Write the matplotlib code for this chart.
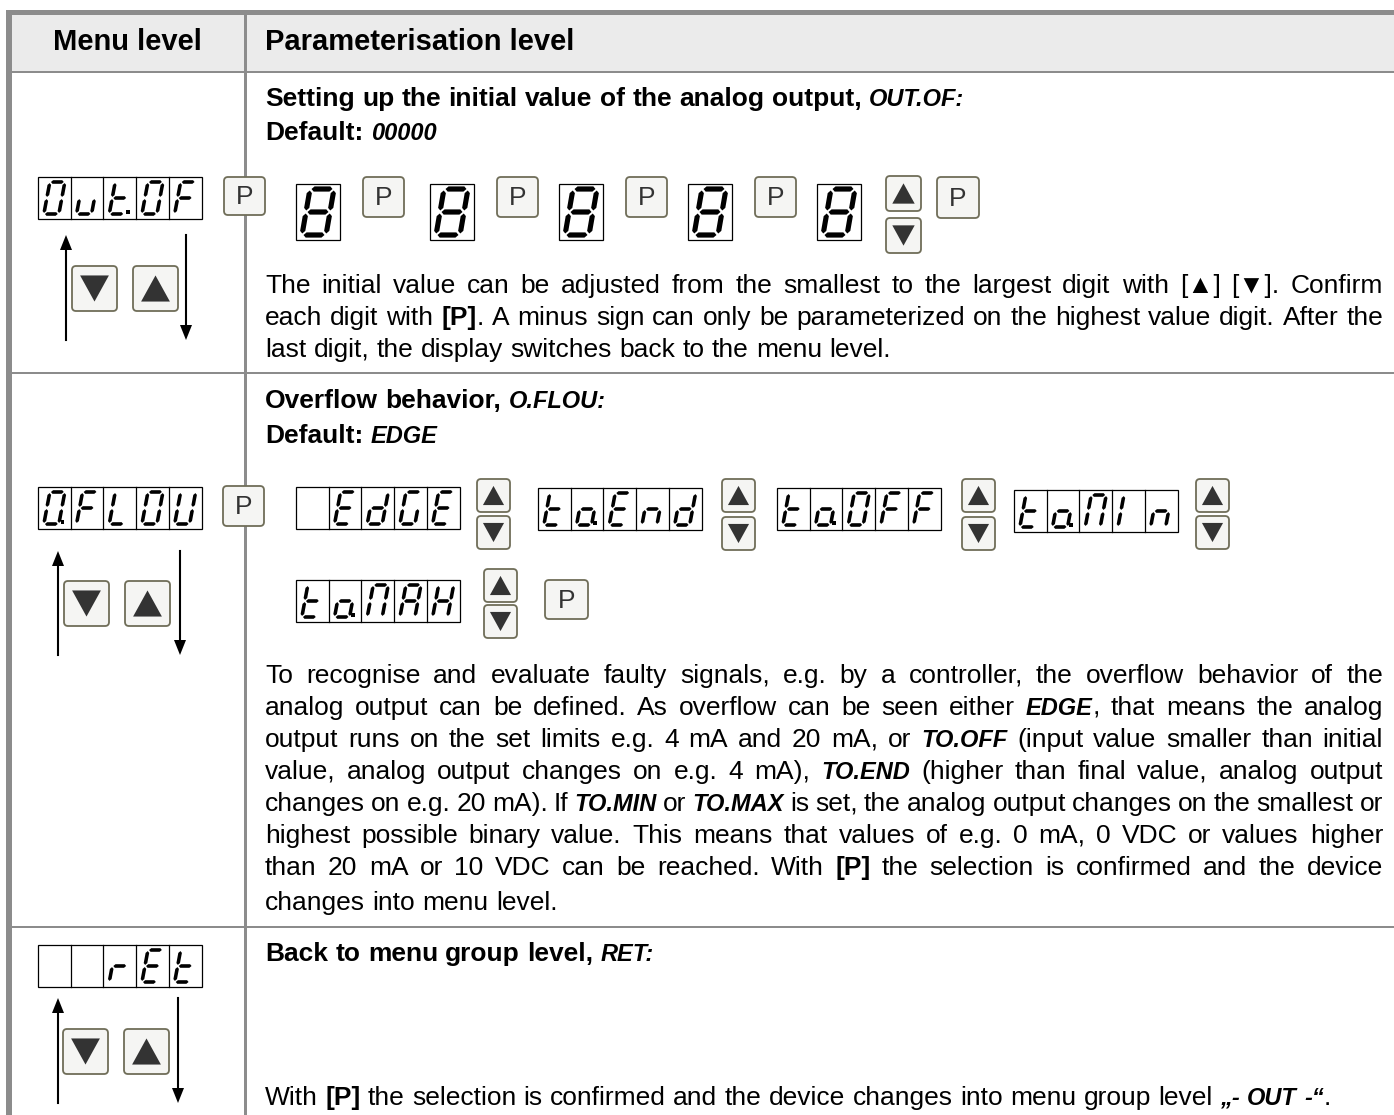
import re

import matplotlib
matplotlib.use("Agg")
import matplotlib.pyplot as plt
import numpy as np
from matplotlib.patches import FancyBboxPatch, Polygon, Rectangle

# ---------------- content ----------------
HEADER_LEFT = "Menu level"
HEADER_RIGHT = "Parameterisation level"

# what the 5-digit display shows in each menu row ("." = decimal point)
MENU_DISPLAYS = ["Out.OF", "O.FLOU", "  rEt"]

# *...* = bold, _..._ = display font (bold italic, smaller)
ROW_TITLES = [
    "Setting up the initial value of the analog output, _OUT.OF:_",
    "Overflow behavior, _O.FLOU:_",
    "Back to menu group level, _RET:_",
]
ROW_DEFAULTS = ["Default: _00000_", "Default: _EDGE_", None]

DIGIT_STEPS = ["8", "8", "8", "8", "8"]
OVERFLOW_OPTIONS = [" EdGE", "to.End", "to.OFF", "to.MIn", "to.MAX"]

TEXT_ROW1 = [
    "The initial value can be adjusted from the smallest to the largest digit with [▲] [▼]. Confirm",
    "each digit with *[P]*. A minus sign can only be parameterized on the highest value digit. After the",
    "last digit, the display switches back to the menu level.",
]
TEXT_ROW2 = [
    "To recognise and evaluate faulty signals, e.g. by a controller, the overflow behavior of the",
    "analog output can be defined. As overflow can be seen either _EDGE_, that means the analog",
    "output runs on the set limits e.g. 4 mA and 20 mA, or _TO.OFF_ (input value smaller than initial",
    "value, analog output changes on e.g. 4 mA), _TO.END_ (higher than final value, analog output",
    "changes on e.g. 20 mA). If _TO.MIN_ or _TO.MAX_ is set, the analog output changes on the smallest or",
    "highest possible binary value. This means that values of e.g. 0 mA, 0 VDC or values higher",
    "than 20 mA or 10 VDC can be reached. With *[P]* the selection is confirmed and the device",
    "changes into menu level.",
]
TEXT_ROW3 = [
    "With *[P]* the selection is confirmed and the device changes into menu group level _„-_ _OUT_ _-“_.",
]

# seven segment glyphs
SEGMENTS = {
    "0": "abcdef", "O": "abcdef", "8": "abcdefg", "u": "cde", "U": "bcdef",
    "t": "defg", "F": "aefg", "L": "def", "E": "adefg", "d": "bcdeg",
    "G": "acdef", "n": "ceg", "o": "cdeg", "M": "abcef", "I": "ef",
    "A": "abcefg", "X": "bcefg", "r": "eg", " ": "",
}
SEG_ENDS = {
    "a": ((0, 1), (1, 1)), "b": ((1, 1), (1, 0.5)), "c": ((1, 0.5), (1, 0)),
    "d": ((0, 0), (1, 0)), "e": ((0, 0.5), (0, 0)), "f": ((0, 1), (0, 0.5)),
    "g": ((0, 0.5), (1, 0.5)),
}

# ---------------- figure ----------------
W, H = 1394, 1115
fig = plt.figure(figsize=(W / 100, H / 100), dpi=100)
ax = fig.add_axes([0, 0, 1, 1])
ax.set_xlim(0, W)
ax.set_ylim(H, 0)
ax.axis("off")
R = fig.canvas.get_renderer()

FS = 19
SANS = ["Liberation Sans", "DejaVu Sans"]
STYLES = {
    "n": dict(family=SANS, weight="normal", fontsize=FS),
    "b": dict(family=SANS, weight="bold", fontsize=FS),
    "s": dict(family=SANS, weight="bold", style="italic", fontsize=17),
}
GRAY = "#8c8c8c"
BTN_EDGE = "#6f6d58"


# ---------------- table ----------------
ax.add_patch(Rectangle((12, 15), W - 12, 57, fc="#ebebeb", ec="none", zorder=0))
ax.add_patch(Rectangle((6, 10), W - 6, 5, fc=GRAY, ec="none", zorder=1))
ax.add_patch(Rectangle((6, 10), 6, H - 10, fc=GRAY, ec="none", zorder=1))
for yl in [72, 373, 927]:
    ax.add_patch(Rectangle((12, yl - 1.25), W - 12, 2.5, fc=GRAY, ec="none", zorder=1))
ax.add_patch(Rectangle((244, 15), 2.5, H - 15, fc=GRAY, ec="none", zorder=1))


# ---------------- helpers ----------------
_wcache = {}


def text_w(s, st):
    key = (s, st)
    if key not in _wcache:
        t = ax.text(0, 0, s, **STYLES[st])
        _wcache[key] = t.get_window_extent(renderer=R).width
        t.remove()
    return _wcache[key]


SPACE = text_w("a a", "n") - text_w("aa", "n")


def parse_word(word, base):
    frags = []
    for part in re.split(r"(\*[^*]+\*|_[^_]+_)", word):
        if not part:
            continue
        if len(part) > 1 and part[0] == part[-1] == "*":
            frags.append((part[1:-1], "b"))
        elif len(part) > 1 and part[0] == part[-1] == "_":
            frags.append((part[1:-1], "s"))
        else:
            frags.append((part, base))
    return frags


def put_line(line, y, base="n", justify=False, x_left=265, x_right=1383):
    words = [parse_word(w, base) for w in line.split(" ")]
    widths = [sum(text_w(t, s) for t, s in w) for w in words]
    if justify and len(words) > 1:
        gap = (x_right - x_left - sum(widths)) / (len(words) - 1)
    else:
        gap = SPACE
    x = x_left
    for w, ww in zip(words, widths):
        xx = x
        for t, s in w:
            ax.text(xx, y, t, ha="left", va="baseline", zorder=6, **STYLES[s])
            xx += text_w(t, s)
        x += ww + gap


def put_paragraph(lines, y0, step, last_y=None):
    for i, line in enumerate(lines):
        last = i == len(lines) - 1
        y = y0 + i * step
        if last and last_y is not None:
            y = last_y
        put_line(line, y, justify=not last)


def draw_glyph(cx, top, gw, gh, slant, segs, dot, ht, gap):
    bottom = top + gh
    x0 = cx - gw / 2

    def shear(p):
        v = (bottom - p[1]) / gh
        return (p[0] + (v - 0.5) * slant, p[1])

    for s in segs:
        (u1, v1), (u2, v2) = SEG_ENDS[s]
        p = np.array([x0 + u1 * gw, bottom - v1 * gh])
        q = np.array([x0 + u2 * gw, bottom - v2 * gh])
        d = (q - p) / np.linalg.norm(q - p)
        n = np.array([-d[1], d[0]])
        p2, q2 = p + d * gap, q - d * gap
        pts = [p2, p2 + d * ht + n * ht, q2 - d * ht + n * ht,
               q2, q2 - d * ht - n * ht, p2 + d * ht - n * ht]
        ax.add_patch(Polygon([shear(pt) for pt in pts], closed=True,
                             fc="black", ec="none", zorder=4))
    if dot:
        dx = x0 + gw + 3.5 - 0.5 * slant
        ax.add_patch(Rectangle((dx - 1.8, bottom - 3.6), 3.6, 3.6, fc="black", ec="none", zorder=4))


def parse_display(text):
    cells = []
    for ch in text:
        if ch == "." and cells:
            cells[-1][1] = True
        else:
            cells.append([ch, False])
    return cells


def draw_display(x, y, text, cell_w=32.7, cell_h=42, n_cells=5,
                 gw=15, slant=6, ht=1.8, gap=1.1, margin=5):
    cells = parse_display(text)
    ax.add_patch(Rectangle((x, y), cell_w * n_cells, cell_h, fill=False,
                           ec="black", lw=0.9, zorder=3))
    for i in range(1, n_cells):
        ax.plot([x + i * cell_w] * 2, [y, y + cell_h], color="black", lw=0.9, zorder=3)
    for i, (ch, dot) in enumerate(cells):
        draw_glyph(x + (i + 0.5) * cell_w, y + margin, gw, cell_h - 2 * margin,
                   slant, SEGMENTS[ch], dot, ht, gap)


def button(x, y, w, h, kind):
    ax.add_patch(FancyBboxPatch((x, y), w, h, boxstyle="round,pad=0,rounding_size=4",
                                fc="#f5f5f3", ec=BTN_EDGE, lw=1.3, zorder=5))
    cx, cy = x + w / 2, y + h / 2
    if kind == "P":
        ax.text(cx, cy + 1, "P", fontsize=19, color="#333333", ha="center",
                va="center", family=SANS, zorder=6)
    else:
        tw, th = w * 0.64, h * 0.58
        if kind == "up":
            pts = [(cx, cy - th / 2), (cx - tw / 2, cy + th / 2), (cx + tw / 2, cy + th / 2)]
        else:
            pts = [(cx, cy + th / 2), (cx - tw / 2, cy - th / 2), (cx + tw / 2, cy - th / 2)]
        ax.add_patch(Polygon(pts, closed=True, fc="#333333", ec="none", zorder=6))


def updown(x, y_up, y_down, w=34, h=33):
    button(x, y_up, w, h, "up")
    button(x, y_down, w, h, "down")


def arrow(x, y_from, y_to):
    sgn = 1 if y_to > y_from else -1
    ax.plot([x, x], [y_from, y_to - sgn * 12], color="black", lw=1.5, zorder=4)
    ax.add_patch(Polygon([(x, y_to), (x - 6, y_to - sgn * 15), (x + 6, y_to - sgn * 15)],
                         closed=True, fc="black", ec="none", zorder=4))


def menu_block(y_disp, text, ax_up, ax_down, y_btn, x_btn_down, y_arrow_top, y_arrow_bot):
    draw_display(38, y_disp, text)
    arrow(ax_up, y_arrow_bot, y_arrow_top)
    arrow(ax_down, y_arrow_top, y_arrow_bot)
    button(x_btn_down, y_btn, 45, 45, "down")
    button(x_btn_down + 61, y_btn, 45, 45, "up")


# ---------------- header ----------------
ax.text(127, 50, HEADER_LEFT, ha="center", va="baseline", family=SANS, weight="bold", fontsize=21)
ax.text(265, 50, HEADER_RIGHT, ha="left", va="baseline", family=SANS, weight="bold", fontsize=21)

# ---------------- row 1 ----------------
put_line(ROW_TITLES[0], 106, base="b")
put_line(ROW_DEFAULTS[0], 140, base="b")
menu_block(177, MENU_DISPLAYS[0], 66, 186, 266, 72, 235, 340)
button(224, 177, 41, 38, "P")
x8 = [296, 430, 559, 688, 817]
xP = [363, 497, 626, 755]
for i, ch in enumerate(DIGIT_STEPS):
    draw_display(x8[i], 184, ch, cell_w=44, cell_h=56, n_cells=1,
                 gw=24, slant=8, ht=2.6, gap=1.5, margin=5)
    if i < len(xP):
        button(xP[i], 177, 41, 40, "P")
updown(886, 176, 218, w=35, h=35)
button(937, 177, 42, 41, "P")
put_paragraph(TEXT_ROW1, 293, 32)

# ---------------- row 2 ----------------
put_line(ROW_TITLES[1], 408, base="b")
put_line(ROW_DEFAULTS[1], 443, base="b")
menu_block(487, MENU_DISPLAYS[1], 58, 180, 581, 64, 551, 655)
button(223, 486, 41, 40, "P")
opt_x = [296, 538, 777, 1014, 296]
opt_y = [487, 488, 488, 490, 580]
ud_x = [477, 722, 962, 1196, 484]
ud_y = [(479, 516), (479, 517), (479, 517), (479, 516), (569, 605)]
for i, opt in enumerate(OVERFLOW_OPTIONS):
    draw_display(opt_x[i], opt_y[i], opt)
    updown(ud_x[i], ud_y[i][0], ud_y[i][1], w=33, h=33)
button(545, 580, 43, 39, "P")
put_paragraph(TEXT_ROW2, 683, 32, last_y=910)

# ---------------- row 3 ----------------
put_line(ROW_TITLES[2], 961, base="b")
menu_block(945, MENU_DISPLAYS[2], 58, 178, 1029, 63, 998, 1103)
put_line(TEXT_ROW3[0], 1105)

fig.savefig("out.png", dpi=100)
